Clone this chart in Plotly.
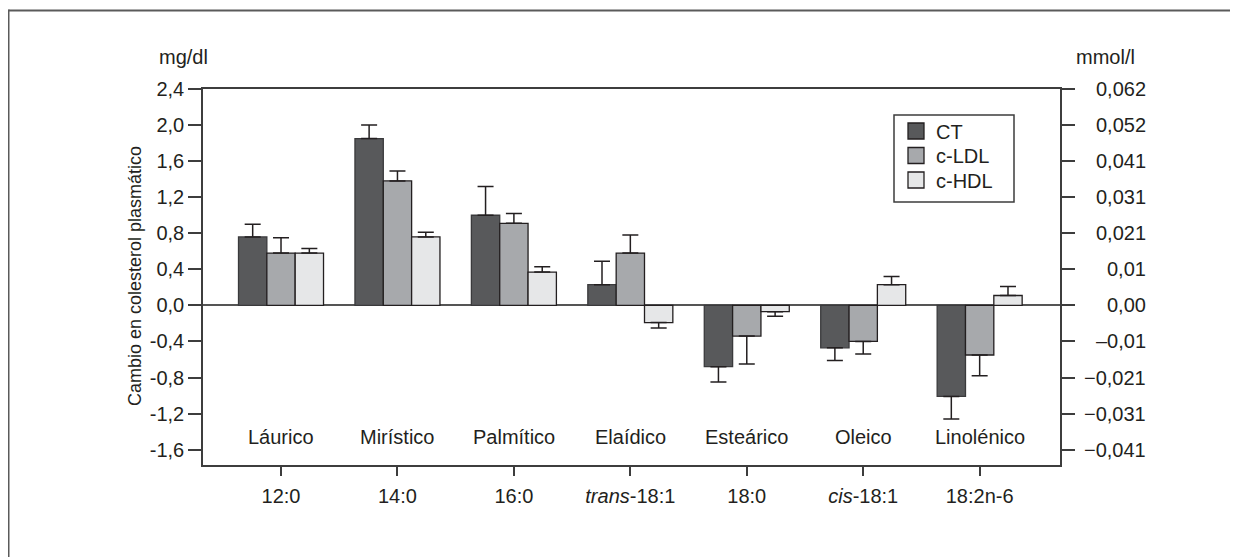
import plotly.graph_objects as go

codes = ["12:0", "14:0", "16:0", "<i>trans</i>-18:1", "18:0", "<i>cis</i>-18:1", "18:2n-6"]
names = ["Láurico", "Mirístico", "Palmítico", "Elaídico", "Esteárico", "Oleico", "Linolénico"]

series = ["CT", "c-LDL", "c-HDL"]
ct = [0.76, 1.85, 1.00, 0.23, -0.68, -0.47, -1.01]
ct_err = [0.14, 0.15, 0.32, 0.26, 0.17, 0.14, 0.25]
ldl = [0.58, 1.38, 0.91, 0.58, -0.34, -0.40, -0.55]
ldl_err = [0.17, 0.11, 0.11, 0.20, 0.31, 0.14, 0.23]
hdl = [0.58, 0.76, 0.37, -0.19, -0.07, 0.23, 0.11]
hdl_err = [0.05, 0.05, 0.06, 0.06, 0.05, 0.09, 0.10]

left_ticks = [2.4, 2.0, 1.6, 1.2, 0.8, 0.4, 0.0, -0.4, -0.8, -1.2, -1.6]
left_labels = ["2,4", "2,0", "1,6", "1,2", "0,8", "0,4", "0,0", "-0,4", "-0,8", "-1,2", "-1,6"]
right_labels = ["0,062", "0,052", "0,041", "0,031", "0,021", "0,01", "0,00",
                "–0,01", "−0,021", "−0,031", "−0,041"]

colors = ["#58595b", "#a7a9ac", "#e6e7e8"]
edges = ["#3a3a3c", "#231f20", "#231f20"]
edge = "#231f20"
txt = "#231f20"
FONT = "Liberation Sans, Arial, sans-serif"
FS = 20

# page geometry (the page body adds an 8px offset)
OFF = 8
WIN_W, WIN_H = 1238, 557
W, H = WIN_W - OFF, WIN_H - OFF
L, R, T, B = 203, 1060, 89, 465


def px_x(p):
    return (p - L) / (R - L)


def px_y(p):
    return (B - p) / (B - T)


legend_ids = ["legend", "legend2", "legend3"]
legend_rows = [131, 155.5, 180]

fig = go.Figure()
for name, vals, errs, col, ecol, lid in zip(series, [ct, ldl, hdl], [ct_err, ldl_err, hdl_err],
                                            colors, edges, legend_ids):
    plus = [e if v >= 0 else 0 for v, e in zip(vals, errs)]
    minus = [0 if v >= 0 else e for v, e in zip(vals, errs)]
    fig.add_trace(go.Bar(
        x=codes, y=vals, name=name, showlegend=False,
        marker=dict(color=col, line=dict(color=ecol, width=1.3)),
        error_y=dict(type="data", symmetric=False, array=plus, arrayminus=minus,
                     color=edge, thickness=1.5, width=8),
    ))
    fig.add_trace(go.Scatter(
        x=[None], y=[None], mode="markers", name=name, legend=lid,
        marker=dict(symbol="square", size=16, color=col, line=dict(color=edge, width=1.3)),
    ))

annotations = []
for i, n in enumerate(names):
    annotations.append(dict(x=i, y=-1.46, xref="x", yref="y", text=n, showarrow=False,
                            font=dict(size=FS, color=txt, family=FONT)))
for v, lab in zip(left_ticks, right_labels):
    annotations.append(dict(x=px_x(1148), y=v, xref="paper", yref="y", text=lab,
                            showarrow=False, xanchor="right", yanchor="middle",
                            font=dict(size=FS, color=txt, family=FONT)))
annotations.append(dict(x=px_x(157), y=px_y(57), xref="paper", yref="paper", text="mg/dl",
                        showarrow=False, xanchor="left", yanchor="middle",
                        font=dict(size=FS, color=txt, family=FONT)))
annotations.append(dict(x=px_x(1074), y=px_y(57), xref="paper", yref="paper", text="mmol/l",
                        showarrow=False, xanchor="left", yanchor="middle",
                        font=dict(size=FS, color=txt, family=FONT)))
annotations.append(dict(x=px_x(135), y=px_y(276), xref="paper", yref="paper",
                        text="Cambio en colesterol plasmático", textangle=-90,
                        showarrow=False, xanchor="center", yanchor="middle",
                        font=dict(size=18, color=txt, family=FONT)))

frame = "#5a5a5a"
axis_col = "#3d3d3d"
shapes = [
    dict(type="line", xref="paper", yref="paper", x0=px_x(8.5), x1=px_x(1245),
         y0=px_y(10.5), y1=px_y(10.5), line=dict(color=frame, width=2)),
    dict(type="line", xref="paper", yref="paper", x0=px_x(8.5), x1=px_x(8.5),
         y0=px_y(9.5), y1=px_y(562), line=dict(color=frame, width=2)),
    # legend box
    dict(type="rect", xref="paper", yref="paper", x0=px_x(894), x1=px_x(1014),
         y0=px_y(202), y1=px_y(115), line=dict(color=axis_col, width=1.5),
         fillcolor="white", layer="above"),
]

layout_legends = {}
for lid, row in zip(legend_ids, legend_rows):
    layout_legends[lid] = dict(x=px_x(896), y=px_y(row), xanchor="left", yanchor="middle",
                               borderwidth=0, bgcolor="rgba(0,0,0,0)",
                               font=dict(size=FS, family=FONT, color=txt),
                               itemsizing="trace")

fig.update_layout(
    width=W, height=H,
    margin=dict(l=L - OFF, r=W - (R - OFF), t=T - OFF, b=H - (B - OFF)),
    paper_bgcolor="white", plot_bgcolor="white",
    barmode="group", bargap=0.27, bargroupgap=0,
    font=dict(family=FONT, size=FS, color=txt),
    xaxis=dict(range=[-0.67, 6.69], showline=True, linecolor=axis_col, linewidth=1.5,
               mirror=True, ticks="outside", ticklen=9, tickwidth=1.5, tickcolor=axis_col,
               showgrid=False, zeroline=False, ticklabelstandoff=3,
               tickfont=dict(size=FS, family=FONT, color=txt)),
    yaxis=dict(range=[-1.77, 2.4], tickvals=left_ticks, ticktext=left_labels,
               showline=True, linecolor=axis_col, linewidth=1.5, mirror="ticks",
               ticks="outside", ticklen=13, tickwidth=1.5, tickcolor=axis_col,
               showgrid=False, zeroline=True, zerolinecolor="#555555", zerolinewidth=1.5,
               tickfont=dict(size=FS, family=FONT, color=txt)),
    annotations=annotations,
    shapes=shapes,
    **layout_legends,
)

fig.write_html("out.html")
